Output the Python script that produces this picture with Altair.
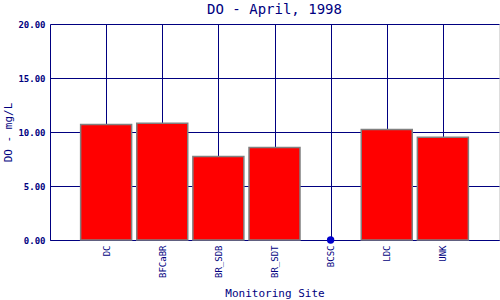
import altair as alt
import pandas as pd

sites = ["DC", "BFCaBR", "BR_SDB", "BR_SDT", "BCSC", "LDC", "UNK"]
do_values = [10.69, 10.80, 7.73, 8.56, None, 10.23, 9.51]

df = pd.DataFrame({"site": sites, "DO": do_values})

NAVY = "#000080"
FONT = "DejaVu Sans Mono"

x = alt.X("site:N", sort=sites, title="Monitoring Site",
          scale=alt.Scale(type="point", padding=1),
          axis=alt.Axis(labelAngle=270, labelAlign="right", labelBaseline="middle",
                        labelPadding=5, tickSize=0, grid=True, gridColor=NAVY,
                        domainColor=NAVY, labelColor=NAVY, titleColor=NAVY,
                        labelFont=FONT, titleFont=FONT, labelFontSize=9,
                        titleFontSize=11, titleFontWeight="normal", titlePadding=10))

y_axis = alt.Axis(values=[0, 5, 10, 15, 20], format=".2f", tickSize=0, labelPadding=5,
                  grid=True, gridColor=NAVY, domainColor=NAVY, labelColor=NAVY,
                  titleColor=NAVY, labelFont=FONT, titleFont=FONT, labelFontSize=9,
                  labelFontWeight="bold", titleFontSize=11, titleFontWeight="normal",
                  titlePadding=4)

base = alt.Chart(df)

bars = base.transform_filter("isValid(datum.DO)").mark_bar(
    size=51, color="#ff0000", stroke="#808080", strokeWidth=1.5
).encode(
    x=x,
    y=alt.Y("DO:Q", title="DO - mg/L", scale=alt.Scale(domain=[0, 20]), axis=y_axis),
)

dots = base.transform_filter("!isValid(datum.DO)").transform_calculate(
    zero="0"
).mark_point(filled=True, size=55, color="#0000cc", opacity=1).encode(
    x=x,
    y=alt.Y("zero:Q", scale=alt.Scale(domain=[0, 20])),
)

chart = alt.layer(bars, dots).properties(
    width=449, height=216,
    autosize="none",
    padding={"left": 50, "top": 24, "right": 1, "bottom": 60},
    title=alt.TitleParams("DO - April, 1998", font=FONT, fontSize=14,
                          fontWeight="normal", color=NAVY, offset=3),
).configure_view(stroke=NAVY, strokeWidth=1).configure(background="white")

chart.save("out.html", embed_options={"renderer": "svg", "actions": False})
